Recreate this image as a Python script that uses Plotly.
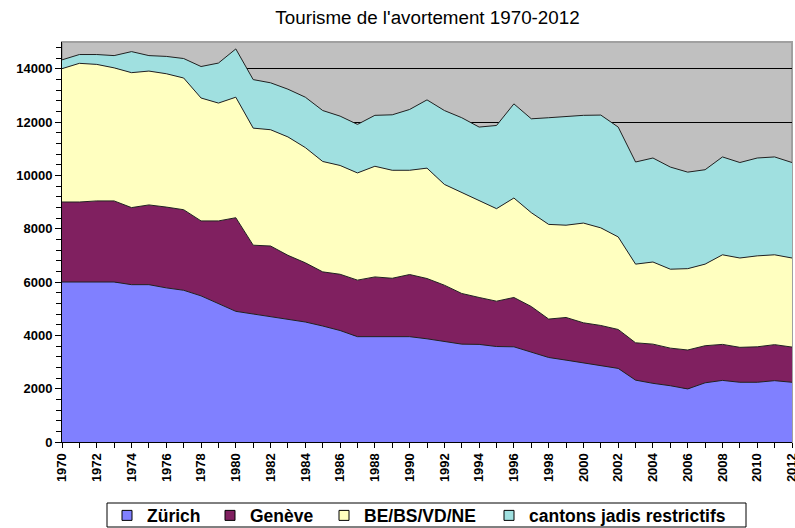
import plotly.graph_objects as go

years = list(range(1970, 2013))

zurich = [6000, 6000, 6000, 6000, 5900, 5900, 5780, 5690, 5480, 5200,
          4900, 4800, 4700, 4600, 4500, 4350, 4180, 3950, 3950, 3950,
          3950, 3870, 3780, 3670, 3660, 3580, 3570, 3360, 3170, 3070,
          2970, 2860, 2760, 2320, 2200, 2110, 1990, 2220, 2310, 2240,
          2240, 2300, 2240]

geneve = [3000, 3000, 3040, 3040, 2890, 2990, 3030, 3020, 2810, 3090,
          3510, 2580, 2650, 2400, 2220, 2030, 2110, 2120, 2240, 2190,
          2330, 2260, 2100, 1900, 1760, 1700, 1850, 1720, 1440, 1600,
          1500, 1510, 1460, 1400, 1470, 1410, 1460, 1390, 1350, 1310,
          1330, 1350, 1320]

be_bs_vd_ne = [5000, 5200, 5120, 4990, 5060, 5020, 5000, 4940, 4610, 4420,
               4520, 4390, 4360, 4440, 4320, 4140, 4080, 4020, 4150, 4050,
               3910, 4140, 3780, 3780, 3620, 3470, 3730, 3520, 3550, 3460,
               3740, 3660, 3470, 2950, 3080, 2960, 3050, 3060, 3360, 3350,
               3410, 3370, 3340]

cantons_restrictifs = [330, 330, 370, 460, 790, 580, 650, 730, 1180, 1500,
                       1810, 1820, 1760, 1790, 1890, 1910, 1850, 1820, 1910, 2080,
                       2280, 2560, 2770, 2810, 2770, 3120, 3530, 3520, 4000, 4080,
                       4040, 4230, 4120, 3830, 3900, 3830, 3620, 3540, 3670, 3580,
                       3670, 3670, 3580]

series_names = ["Zürich", "Genève", "BE/BS/VD/NE", "cantons jadis restrictifs"]
series_values = [zurich, geneve, be_bs_vd_ne, cantons_restrictifs]
series_colors = ["#8080FF", "#802060", "#FFFFC0", "#A0E0E0"]

x_ticks = list(range(1970, 2013, 2))
y_ticks = list(range(0, 15000, 2000))

FONT = "Liberation Sans, Arial, sans-serif"

# geometry of the plot area (pixels)
L, R, T, B = 62, 3, 42, 86
W, H = 795, 528
PW, PH = W - L - R, H - T - B

def px_x(p):
    return (p - L) / PW

def px_y(p):
    return (H - B - p) / PH

legend_names = ["legend", "legend2", "legend3", "legend4"]
legend_left_px = [107, 210, 324, 489]

fig = go.Figure()
for name, vals, color in zip(series_names, series_values, series_colors):
    fig.add_trace(go.Scatter(
        x=years, y=vals, name=name, mode="lines",
        stackgroup="one",
        line=dict(color="#202020", width=1),
        fillcolor=color, showlegend=False,
    ))

# legend entries (square swatches as in the original)
for name, color, lg in zip(series_names, series_colors, legend_names):
    fig.add_trace(go.Scatter(
        x=[None], y=[None], name=name, mode="markers",
        marker=dict(symbol="square", size=10, color=color,
                    line=dict(color="black", width=1)),
        showlegend=True, legend=lg,
    ))

legend_common = dict(orientation="h", xanchor="left", yanchor="middle",
                     xref="container", yref="container",
                     bgcolor="rgba(0,0,0,0)", borderwidth=0,
                     font=dict(family=FONT, size=17.5, color="black", weight="bold"),
                     itemwidth=30)
legend_layout = {}
for lg, lx in zip(legend_names, legend_left_px):
    legend_layout[lg] = dict(legend_common, x=lx / W, y=1 - 515.5 / H)

fig.update_layout(
    width=W, height=H,
    margin=dict(l=L, r=R, t=T, b=B, autoexpand=False),
    paper_bgcolor="white",
    plot_bgcolor="#C0C0C0",
    title=dict(text="Tourisme de l'avortement 1970-2012",
               font=dict(family=FONT, size=18.8, color="black"),
               x=427.5 / W, xanchor="center", y=1 - 17 / H, yanchor="middle"),
    font=dict(family=FONT, color="black"),
    showlegend=True,
    shapes=[
        dict(type="rect", xref="paper", yref="paper", x0=0, x1=1, y0=0, y1=1,
             line=dict(color="#A0A0A0", width=2), layer="below"),
        dict(type="rect", xref="paper", yref="paper",
             x0=px_x(107), x1=px_x(746), y0=px_y(527), y1=px_y(503),
             line=dict(color="black", width=1), fillcolor="white", layer="below"),
    ],
    **legend_layout,
)

fig.update_xaxes(
    range=[1970, 2012], tickmode="array", tickvals=x_ticks,
    ticktext=[f"<b>{v}</b>" for v in x_ticks], tickangle=-90,
    tickfont=dict(family=FONT, size=13, color="black"),
    ticks="outside", ticklen=5, tickcolor="black",
    minor=dict(dtick=1, tick0=1970, ticks="outside", ticklen=5, tickcolor="black"),
    showgrid=False, showline=True, linecolor="black", linewidth=1, zeroline=False,
    automargin=False, ticklabeloverflow="allow",
)
fig.update_yaxes(
    range=[0, 15000], tickmode="array", tickvals=y_ticks,
    ticktext=[f"<b>{v}</b>" for v in y_ticks],
    tickfont=dict(family=FONT, size=13, color="black"),
    ticks="outside", ticklen=6, tickcolor="black",
    minor=dict(dtick=400, tick0=0, ticks="outside", ticklen=5, tickcolor="black", showgrid=False),
    showgrid=True, gridcolor="black", gridwidth=1,
    showline=True, linecolor="black", linewidth=1, zeroline=False,
    automargin=False,
)

fig.write_html("out.html", config={"displayModeBar": False},
               post_script="document.body.style.margin='0';document.body.style.overflow='hidden';")
